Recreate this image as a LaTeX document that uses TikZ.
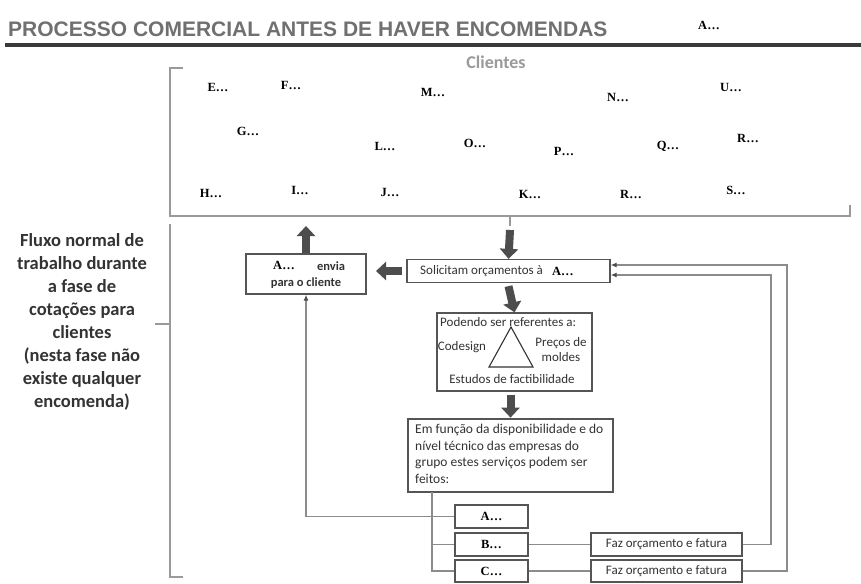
\documentclass[tikz,border=0pt]{standalone}
\usepackage{fontspec}
\setmainfont{Carlito}
\newfontfamily\labfont{Liberation Serif}
\newfontfamily\titlefont{Liberation Sans}
\usetikzlibrary{arrows.meta}
\definecolor{boxgray}{HTML}{555555}
\definecolor{linegray}{HTML}{8C8C8C}
\definecolor{arrowgray}{HTML}{4D4D4D}
\definecolor{titlegray}{HTML}{707070}
\definecolor{textdark}{HTML}{333333}
\definecolor{rulecol}{HTML}{3A3A3A}
\definecolor{brgray}{HTML}{9A9A9A}
\tikzset{
  lab/.style={font=\labfont\bfseries\fontsize{12.5}{14}\selectfont, inner sep=0pt, text=black},
  boxtext/.style={font=\fontsize{13}{15}\selectfont, text=textdark, inner sep=0pt},
  boxbold/.style={font=\bfseries\fontsize{12.5}{14}\selectfont, text=textdark, inner sep=0pt},
  stepbox/.style={draw=boxgray, line width=1.3pt, fill=white, inner sep=0pt},
  blockarrow/.style={line width=8pt, arrowgray, -{Triangle[width=18pt,length=10pt]}},
  thinline/.style={draw=linegray, line width=1.2pt},
  thinarrow/.style={draw=linegray, line width=1.2pt, -{Latex[length=6pt,width=5pt,color=arrowgray]}},
  bracket/.style={draw=brgray, line width=1.2pt},
}
\begin{document}
\begin{tikzpicture}[x=1pt,y=-1pt]
\useasboundingbox[fill=white] (0,0) rectangle (861,583);

% title
\node[anchor=base west, font=\titlefont\bfseries\fontsize{21}{24}\selectfont, text=titlegray, inner sep=0pt] (title) at (8,37) {PROCESSO COMERCIAL ANTES DE HAVER ENCOMENDAS};
\node[lab] (atop) at (709,25) {A…};
\draw[line width=4pt, rulecol] (5,45.5) -- (861,45.5);

% Clientes
\node[font=\bfseries\fontsize{18}{20}\selectfont, text=brgray, inner sep=0pt] (clientes) at (496,62) {Clientes};

% top bracket
\draw[bracket] (183,68) -- (170,68) -- (170,216) -- (850,216) -- (850,205);
\coordinate (tick) at (510,216);
\coordinate (tickend) at (510,226);
\draw[bracket] (tick) -- (tickend);

% client labels
\node[lab] (e) at (218,87) {E…};
\node[lab] (f) at (291,85) {F…};
\node[lab] (m) at (433,92) {M…};
\node[lab] (n) at (618,97) {N…};
\node[lab] (u) at (731,87) {U…};
\node[lab] (g) at (248,131) {G…};
\node[lab] (l) at (385,146) {L…};
\node[lab] (o) at (475,143) {O…};
\node[lab] (p) at (564,151) {P…};
\node[lab] (q) at (668,146) {Q…};
\node[lab] (r1) at (748,138) {R…};
\node[lab] (h) at (211,193) {H…};
\node[lab] (i) at (300,190) {I…};
\node[lab] (j) at (390,192) {J…};
\node[lab] (k) at (530,194) {K…};
\node[lab] (r2) at (631,194) {R…};
\node[lab] (s) at (736,190) {S…};

% left brace and text
\draw[bracket] (170,224) -- (170,577) -- (183,577);
\coordinate (bracemid) at (170,324);
\coordinate (bracetip) at (155,324);
\draw[bracket] (bracemid) -- (bracetip);
\node[align=center, font=\bfseries\fontsize{18.5}{23}\selectfont, text=textdark, inner sep=0pt] (flux) at (82,322)
 {Fluxo normal de\\trabalho durante\\a fase de\\cotações para\\clientes\\(nesta fase não\\existe qualquer\\encomenda)};

% A envia box
\node[stepbox, minimum width=120pt, minimum height=40pt] (envia) at (306,274) {};
\node[lab] (envA) at (284,265) {A…};
\node[boxbold] (envT) at (331,266) {envia};
\node[boxbold] (envT2) at (306,283) {para o cliente};
\coordinate (uptip) at (306,226);
\draw[blockarrow] (envia.north) -- (uptip);

% Solicitam box
\node[stepbox, minimum width=203pt, minimum height=23pt] (sol) at (508.5,271) {};
\node[boxtext, anchor=west] (solT) at (420,271) {Solicitam orçamentos à};
\node[lab, anchor=west] (solA) at (552,271) {A…};
\draw[blockarrow] (510,230) -- (sol.north);
\coordinate (lefttip) at (376,271);
\draw[blockarrow] (sol.west) ++(-4,0) -- (lefttip);

% Podendo box
\node[stepbox, minimum width=155pt, minimum height=78pt] (pod) at (514.5,352) {};
\draw[blockarrow] (sol.south) ++(0,3) -- (pod.north);
\node[boxtext, anchor=west] (podT) at (440,322) {Podendo ser referentes a:};
\draw[draw=textdark, line width=1.1pt] (511,327) -- (533,367) -- (489,367) -- cycle;
\node[boxtext] (codes) at (462,347) {Codesign};
\node[boxtext, align=center, font=\fontsize{13}{15}\selectfont] (precos) at (561,350) {Preços de\\moldes};
\node[boxtext] (estudos) at (512,379) {Estudos de factibilidade};

% Em funcao box
\node[stepbox, minimum width=205pt, minimum height=73pt] (em) at (510.5,455.5) {};
\draw[blockarrow] (pod.south) ++(-4,3) -- ++(0,23);
\node[boxtext, anchor=north west, align=left, font=\fontsize{13.5}{16.7}\selectfont] (emT) at (415,424)
 {Em função da disponibilidade e do\\nível técnico das empresas do\\grupo estes serviços podem ser\\feitos:};

% small boxes
\node[stepbox, minimum width=73pt, minimum height=23pt] (ba) at (491.5,516.5) {};
\node[lab] at (ba) {A…};
\node[stepbox, minimum width=73pt, minimum height=23pt] (bb) at (491.5,544.5) {};
\node[lab] at (bb) {B…};
\node[stepbox, minimum width=73pt, minimum height=22pt] (bc) at (491.5,571) {};
\node[lab] at (bc) {C…};
\node[stepbox, minimum width=151pt, minimum height=23pt] (f1) at (666.5,544.5) {};
\node[boxtext] at (f1) {Faz orçamento e fatura};
\node[stepbox, minimum width=151pt, minimum height=22pt] (f2) at (666.5,571) {};
\node[boxtext] at (f2) {Faz orçamento e fatura};

% connectors
\coordinate (emfoot) at (432,492);
\draw[thinline] (emfoot) |- (bb.west);
\draw[thinline] (emfoot) |- (bc.west);
\draw[thinarrow] (ba.west) -| (envia.south);
\draw[thinline] (bb.east) -- (f1.west);
\draw[thinline] (bc.east) -- (f2.west);
\coordinate (c1) at (771,275);
\coordinate (c2) at (787,265);
\draw[thinarrow] (f1.east) -| (c1) -- (sol.east |- c1);
\draw[thinarrow] (f2.east) -| (c2) -- (sol.east |- c2);
\end{tikzpicture}
\end{document}
